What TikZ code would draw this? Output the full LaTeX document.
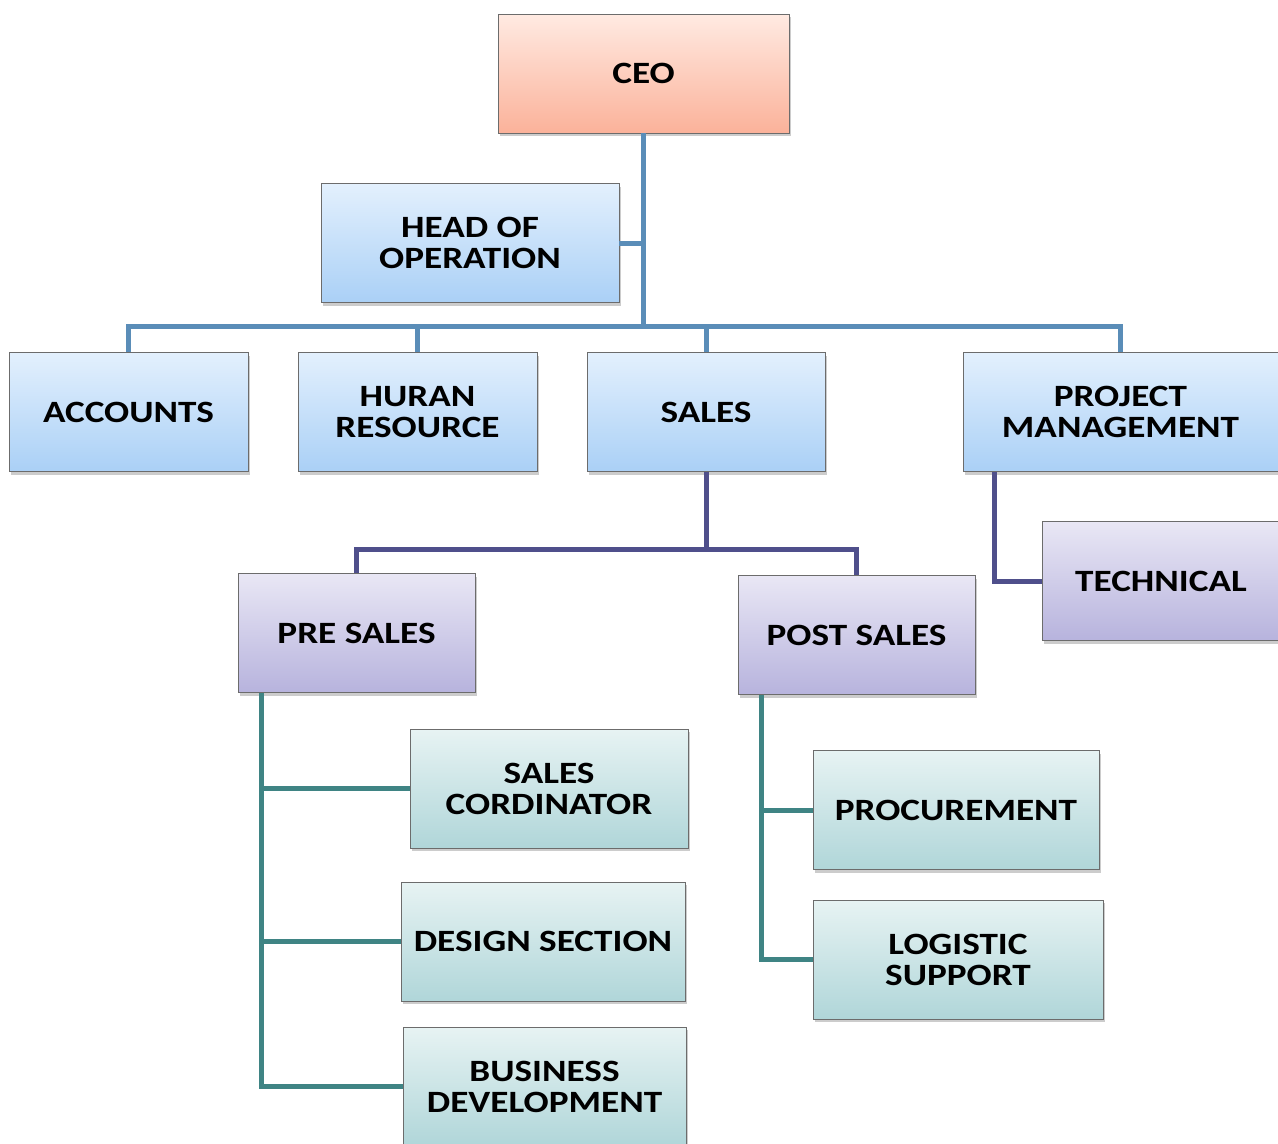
\documentclass[tikz,border=0pt]{standalone}
\usepackage{fontspec}
\setmainfont{Carlito}[FakeStretch=1.2]
\usetikzlibrary{shadows}

\definecolor{ceotop}{HTML}{FFEAE2}
\definecolor{ceobot}{HTML}{FBB29A}
\definecolor{bluetop}{HTML}{E3F0FD}
\definecolor{bluebot}{HTML}{AAD0F6}
\definecolor{purptop}{HTML}{E9E7F5}
\definecolor{purpbot}{HTML}{B7B3DD}
\definecolor{tealtop}{HTML}{E7F3F3}
\definecolor{tealbot}{HTML}{B0D6D9}
\definecolor{blueline}{HTML}{5A8DB8}
\definecolor{purpline}{HTML}{4F4F8B}
\definecolor{tealline}{HTML}{3F8484}

\begin{document}
\begin{tikzpicture}[x = 1pt, y = -1pt,
        box/.style = {draw = gray!85!black, line width = 0.8pt, minimum width = #1, minimum height = 119pt,
            inner sep = 0pt, align = center, font = \fontsize{31}{31}\selectfont\bfseries,
            drop shadow = {shadow xshift = 2pt, shadow yshift = -3pt, opacity = 0.4}},
        ceobox/.style = {box = #1, top color = ceotop, bottom color = ceobot},
        bluebox/.style = {box = #1, top color = bluetop, bottom color = bluebot},
        purpbox/.style = {box = #1, top color = purptop, bottom color = purpbot},
        tealbox/.style = {box = #1, top color = tealtop, bottom color = tealbot},
        link/.style = {line width = 5pt, draw = #1}]
    \useasboundingbox (0,0) rectangle (1278,1144);
    % top levels
    \node[ceobox = 291pt] (ceo) at (643.5,73.5) {CEO};
    \node[bluebox = 298pt] (hoo) at (470,243) {HEAD OF\\OPERATION};
    \node[bluebox = 239pt] (acc) at (128.5,412) {ACCOUNTS};
    \node[bluebox = 239pt] (hur) at (417.5,412) {HURAN\\RESOURCE};
    \node[bluebox = 238pt] (sales) at (706,412) {SALES};
    \node[bluebox = 315pt] (pm) at (1120.5,412) {PROJECT\\MANAGEMENT};
    \node[purpbox = 238pt] (tech) at (1161,581) {TECHNICAL};
    % sales branch
    \node[purpbox = 237pt] (pre) at (356.5,633) {PRE SALES};
    \node[purpbox = 237pt] (post) at (856.5,635) {POST SALES};
    \node[tealbox = 278pt] (sc) at (549,788.5) {SALES\\CORDINATOR};
    \node[tealbox = 284pt] (ds) at (543,941.5) {DESIGN SECTION};
    \node[tealbox = 283pt] (bd) at (544.5,1086.5) {BUSINESS\\DEVELOPMENT};
    \node[tealbox = 286pt] (proc) at (956,810) {PROCUREMENT};
    \node[tealbox = 290pt] (log) at (958,959.5) {LOGISTIC\\SUPPORT};
    % connectors
    \coordinate (topbar) at (643.5,326);
    \coordinate (salesbar) at (706,549);
    \coordinate (prestem) at ([xshift = 24pt]pre.south west);
    \coordinate (poststem) at ([xshift = 24pt]post.south west);
    \coordinate (pmstem) at ([xshift = 32pt]pm.south west);
    \begin{scope}[link = blueline]
        \draw (ceo.south) -- (topbar);
        \draw (hoo.east) -- (hoo.east -| ceo.south);
        \draw (acc.north) |- (topbar) -| (pm.north);
        \draw (hur.north) -- (hur.north |- topbar);
        \draw (sales.north) -- (sales.north |- topbar);
    \end{scope}
    \begin{scope}[link = purpline]
        \draw (sales.south) -- (salesbar);
        \draw (pre.north) |- (salesbar) -| (post.north);
        \draw (pmstem) |- (tech.west);
    \end{scope}
    \begin{scope}[link = tealline]
        \draw (prestem) |- (bd.west);
        \draw (sc.west) -- (sc.west -| prestem);
        \draw (ds.west) -- (ds.west -| prestem);
        \draw (poststem) |- (log.west);
        \draw (proc.west) -- (proc.west -| poststem);
    \end{scope}
\end{tikzpicture}
\end{document}
